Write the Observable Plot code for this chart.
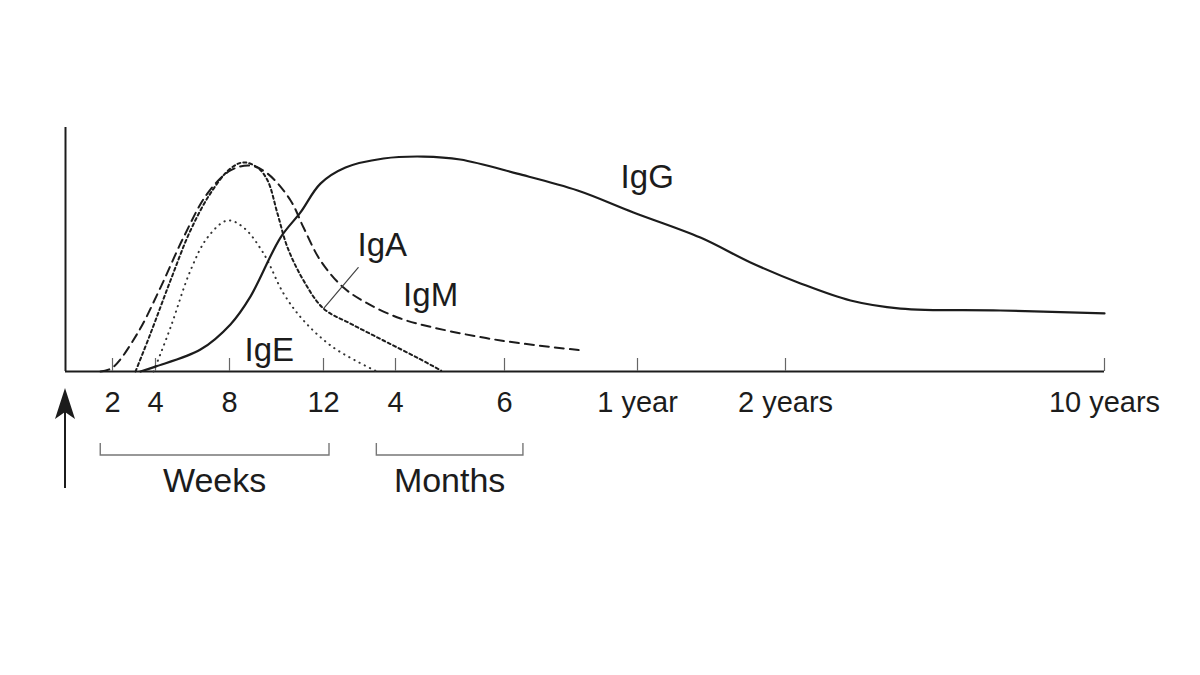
<!DOCTYPE html>
<html>
<head>
<meta charset="utf-8">
<script src="https://cdn.jsdelivr.net/npm/d3@7"></script>
<script src="https://cdn.jsdelivr.net/npm/@observablehq/plot@0.6"></script>
<style>
  html, body { margin: 0; padding: 0; background: #fff; }
  #chart svg { display: block; }
</style>
</head>
<body>
<div id="chart"></div>
<script>
// ---- Axis: time since exposure, in weeks (piecewise, non-linear schematic axis)
const tickWeeks  = [2, 4, 8, 12, 17.4, 26, 52, 104, 520];
const tickLabels = ["2", "4", "8", "12", "4", "6", "1 year", "2 years", "10 years"];

// ---- Series (x in weeks after exposure, y = relative antibody level)
const igGWeeks = [3.3, 4.0, 6.43, 8.04, 8.89, 10.17, 11.02, 11.87, 13.65, 16.5, 19.6, 22.5, 28.5, 40.3, 51.2, 74.1, 91.7, 123.6, 188.8, 254, 384, 520];
const igGLevel = [0, 2.0, 9.0, 19.3, 30.7, 54.9, 65.2, 77.0, 83.6, 87.3, 88.1, 86.9, 81.1, 74.2, 65.2, 54.9, 44.7, 36.1, 29.1, 25.8, 25.0, 23.8];

const igMWeeks = [1.49, 2.0, 3.16, 4.27, 5.51, 6.81, 8.04, 8.89, 9.62, 10.6, 11.15, 11.87, 13.5, 15.3, 17.8, 20.4, 25.7, 41.4];
const igMLevel = [0, 1.6, 15.6, 34.4, 54.9, 73.0, 82.4, 84.4, 81.1, 70.1, 59.0, 45.5, 34.4, 27.9, 21.7, 18.0, 12.7, 8.6];

const igAWeeks = [3.07, 3.77, 4.81, 5.89, 6.97, 8.04, 8.6, 9.19, 9.62, 10.04, 10.47, 11.15, 12.0, 14.0, 16.5, 19.1, 21.0];
const igALevel = [0, 15.6, 37.3, 57.8, 73.0, 83.2, 85.7, 83.6, 78.3, 64.8, 50.8, 37.3, 25.8, 19.7, 12.7, 5.7, 0.4];

const igEWeeks = [3.91, 4.81, 5.89, 6.81, 7.89, 8.6, 9.45, 10.3, 11.15, 12.75, 16.0];
const igELevel = [0, 18.0, 41.4, 54.9, 61.9, 59.0, 48.4, 32.0, 20.9, 9.8, 0];

// ---- Series labels (anchored at left/baseline)
const labelNames  = ["IgG", "IgA", "IgM", "IgE"];
const labelWeeks  = [48.7, 14.55, 18.0, 8.64];
const labelLevels = [75.4, 47.5, 27.0, 4.5];

// ---- IgA leader line
const leaderWeeks  = [12.0, 14.6];
const leaderLevels = [25.8, 42.6];

// ---- Period brackets under the axis
const bracketNames = ["Weeks", "Months"];
const bracketFrom  = [1.5, 16.0];
const bracketTo    = [12.45, 29.7];

// ---- Build tables
const series = (name, xs, ys) => xs.map((w, i) => ({series: name, weeks: w, level: ys[i]}));
const igG = series("IgG", igGWeeks, igGLevel);
const igM = series("IgM", igMWeeks, igMLevel);
const igA = series("IgA", igAWeeks, igALevel);
const igE = series("IgE", igEWeeks, igELevel);
const labels = labelNames.map((t, i) => ({text: t, weeks: labelWeeks[i], level: labelLevels[i]}));
const leader = leaderWeeks.map((w, i) => ({weeks: w, level: leaderLevels[i]}));
const tickLabelOf = new Map(tickWeeks.map((w, i) => [w, tickLabels[i]]));

const W = 1200, H = 675, MT = 127, MB = 304, ML = 65, MR = 96;
const ink = "#1c1c1c";
const font = "'Liberation Sans', Arial, Helvetica, sans-serif";

const chart = Plot.plot({
  width: W, height: H,
  marginTop: MT, marginBottom: MB, marginLeft: ML, marginRight: MR,
  style: {fontFamily: font, background: "#fff", color: ink, overflow: "visible"},
  x: {type: "linear", domain: [0, ...tickWeeks], range: [65, 112, 155, 229, 323, 395, 504, 637, 785, 1104], clamp: false},
  y: {domain: [0, 100], axis: null},
  marks: [
    Plot.ruleX([0], {stroke: ink, strokeWidth: 2}),
    Plot.ruleY([0], {stroke: ink, strokeWidth: 2}),
    Plot.tickX(tickWeeks, {x: d => d, insetTop: (H - MT - MB) - 13, stroke: "#666", strokeWidth: 1.2}),
    Plot.axisX({ticks: tickWeeks, tickSize: 0, tickPadding: 20, tickFormat: d => tickLabelOf.get(d),
      fontSize: 29, fill: ink, label: null}),
    Plot.line(igE, {x: "weeks", y: "level", curve: "catmull-rom", stroke: "#333", strokeWidth: 2,
      strokeDasharray: "0.3,5.5", strokeLinecap: "round"}),
    Plot.line(igA, {x: "weeks", y: "level", curve: "catmull-rom", stroke: ink, strokeWidth: 2,
      strokeDasharray: "3,3"}),
    Plot.line(igM, {x: "weeks", y: "level", curve: "catmull-rom", stroke: ink, strokeWidth: 2,
      strokeDasharray: "9,6"}),
    Plot.line(igG, {x: "weeks", y: "level", curve: "catmull-rom", stroke: ink, strokeWidth: 2.2}),
    Plot.line(leader, {x: "weeks", y: "level", stroke: "#444", strokeWidth: 1.2}),
    Plot.text(labels, {x: "weeks", y: "level", text: "text", textAnchor: "start", lineAnchor: "bottom",
      fontSize: 33, fill: ink})
  ]
});

document.getElementById("chart").appendChild(chart);

// ---- Annotations below the axis (brackets and exposure arrow), positioned with Plot's x scale
const xs = chart.scale("x");
const base = H - MB;
const svg = d3.select(chart);
const g = svg.append("g").attr("class", "annotations");
bracketNames.forEach((name, i) => {
  const x1 = xs.apply(bracketFrom[i]), x2 = xs.apply(bracketTo[i]);
  g.append("path")
    .attr("d", `M${x1},${base + 72}V${base + 84}H${x2}V${base + 72}`)
    .attr("fill", "none").attr("stroke", "#777").attr("stroke-width", 1.4);
  g.append("text")
    .attr("x", (x1 + x2) / 2).attr("y", base + 121)
    .attr("text-anchor", "middle")
    .attr("font-family", font).attr("font-size", 34).attr("fill", ink)
    .text(name);
});
const ax = xs.apply(0);
g.append("line")
  .attr("x1", ax).attr("x2", ax).attr("y1", base + 117).attr("y2", base + 40)
  .attr("stroke", ink).attr("stroke-width", 2);
g.append("path")
  .attr("d", `M${ax},${base + 17}L${ax + 10},${base + 48}L${ax},${base + 41}L${ax - 10},${base + 48}Z`)
  .attr("fill", ink);
</script>
</body>
</html>
